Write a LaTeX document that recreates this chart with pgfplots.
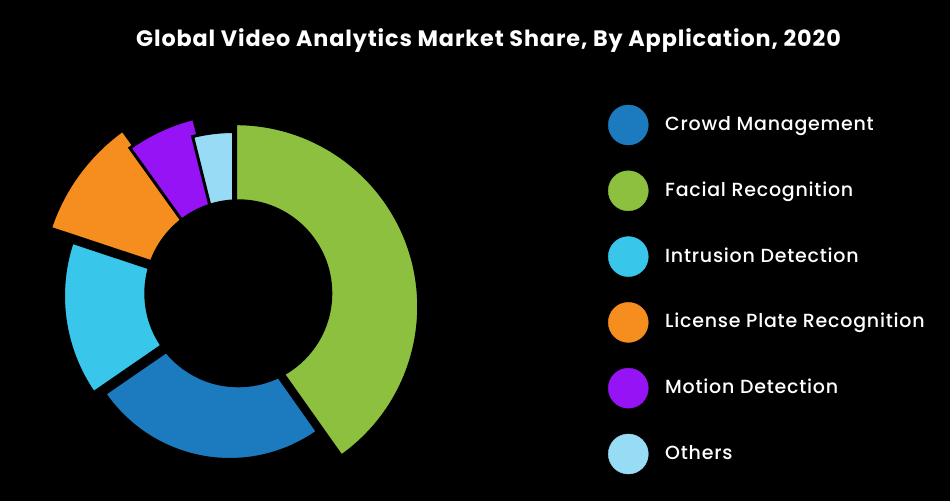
\documentclass[border=0pt]{standalone}
\usepackage{fontspec}
\setmainfont{Poppins}[UprightFont=* Medium, BoldFont=* Bold, LetterSpace=4]
\usepackage{pgfplots}
\pgfplotsset{compat=1.18}

\definecolor{cCrowd}{HTML}{1B7BBE}
\definecolor{cFacial}{HTML}{8DC03F}
\definecolor{cIntrusion}{HTML}{38C6EA}
\definecolor{cLicense}{HTML}{F68E1F}
\definecolor{cMotion}{HTML}{9513F5}
\definecolor{cOthers}{HTML}{98DBF4}

% slice: start (%), share (%), centre x, centre y, radius, colour
\newcommand{\slice}[6]{%
  \fill[#6, draw=black, line width=3pt]
    (axis cs:#3,#4) -- ++({90-3.6*#1}:#5pt)
    arc[start angle={90-3.6*#1}, end angle={90-3.6*(#1+#2)}, radius=#5pt]
    -- cycle;}

\begin{document}
\begin{tikzpicture}
\begin{axis}[
    scale only axis,
    width=950pt, height=501pt,
    xmin=0, xmax=950, ymin=0, ymax=501,
    hide axis, clip=false,
]
\fill[black] (axis cs:0,0) rectangle (axis cs:950,501);

% shares, clockwise from the top
\slice{0}{40.2}{235.7}{194.3}{183}{cFacial}
\slice{40.2}{25.2}{229.8}{193.3}{151.8}{cCrowd}
\slice{65.4}{14.7}{234}{205}{170.5}{cIntrusion}
\slice{80.1}{10.0}{237.4}{210.7}{197}{cLicense}
\slice{90.1}{6.0}{239.2}{200.6}{187.5}{cMotion}
\slice{96.1}{3.9}{233.5}{201}{168.5}{cOthers}
\fill[black] (axis cs:238.3,207.7) circle[radius=94pt];

\node[white, font=\fontsize{22.3}{26}\selectfont\bfseries, anchor=base]
  at (axis cs:488.5,454.3) {Global Video Analytics Market Share, By Application, 2020};

% legend
\addplot[only marks, mark=*, mark size=20pt, color=cCrowd] coordinates {(628.3,376)};
\addplot[only marks, mark=*, mark size=20pt, color=cFacial] coordinates {(628.3,310.2)};
\addplot[only marks, mark=*, mark size=20pt, color=cIntrusion] coordinates {(628.3,244.4)};
\addplot[only marks, mark=*, mark size=20pt, color=cLicense] coordinates {(628.3,178.6)};
\addplot[only marks, mark=*, mark size=20pt, color=cMotion] coordinates {(628.3,112.8)};
\addplot[only marks, mark=*, mark size=20pt, color=cOthers] coordinates {(628.3,47)};

\begin{scope}[every node/.style={white, anchor=base west, inner sep=0pt, font=\fontsize{19}{23}\selectfont}]
\node at (axis cs:665,370.5) {Crowd Management};
\node at (axis cs:665,304.7) {Facial Recognition};
\node at (axis cs:665,238.9) {Intrusion Detection};
\node at (axis cs:665,173.1) {License Plate Recognition};
\node at (axis cs:665,107.3) {Motion Detection};
\node at (axis cs:665,41.5) {Others};
\end{scope}
\end{axis}
\end{tikzpicture}
\end{document}
